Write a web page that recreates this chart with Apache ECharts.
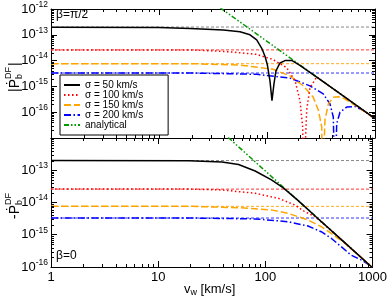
<!DOCTYPE html>
<html><head><meta charset="utf-8">
<script src="https://cdn.jsdelivr.net/npm/echarts@6/dist/echarts.min.js"></script>
<style>html,body{margin:0;padding:0;background:#fff}#c{width:390px;height:299px}</style>
</head><body><div id="c"></div>
<script>
// ---- data (v_w in km/s, P in arbitrary units) ----
const xTickValues = [1, 10, 100, 1000];
const xMinorTicks = [2,3,4,5,6,7,8,9,20,30,40,50,60,70,80,90,200,300,400,500,600,700,800,900];
const topYMinorTicks = [-17,-16,-15,-14,-13].flatMap(e => [2,3,4,5,6,7,8,9].map(k => +(k + 'e' + e)));
const botYMinorTicks = [-16,-15,-14,-13].flatMap(e => [2,3,4,5,6,7,8,9].map(k => +(k + 'e' + e)));
const legendNames = ['σ = 50 km/s', 'σ = 100 km/s', 'σ = 150 km/s', 'σ = 200 km/s', 'analytical'];
const asymptotes = [2.0e-13, 2.6e-14, 7.6e-15, 3.3e-15];

// top panel (beta = pi/2), |P|
const top50 = [[1,1.95e-13],[10,1.9e-13],[19.4,1.75e-13],[39.4,1.55e-13],[56.2,1.32e-13],[69.6,1.0e-13],[80.3,6.4e-14],[89.4,3.0e-14],[95.8,1.47e-14],[100.6,7.1e-15],[106.6,1.6e-15],[111.2,2.8e-16],[116,1.26e-15],[121,4e-15],[132,8.1e-15],[146.7,1.0e-14],[169,1.02e-14],[200,6.7e-15],[300,2.05e-15],[500,4.45e-16],[1000,5.6e-17]];
const top100 = [[1,2.6e-14],[20,2.6e-14],[45,2.2e-14],[80,1.75e-14],[114,1.1e-14],[152,5.3e-15],[182,1.65e-15],[202,2.8e-16],[214,2.7e-17],[218,1e-19],[233,1.2e-16],[250,9e-16],[289,2.3e-15],[350,1.3e-15],[500,4.45e-16],[1000,5.6e-17]];
const top150 = [[1,7.6e-15],[20,7.6e-15],[56,6.7e-15],[114,4.6e-15],[163,2.55e-15],[217,1.05e-15],[268,3.8e-16],[299,1.2e-16],[321,2.7e-17],[327,1e-19],[344,4.9e-17],[370,2.1e-16],[411,3.8e-16],[458,4.0e-16],[509,3.5e-16],[650,1.9e-16],[1000,5.6e-17]];
const top200 = [[1,3.3e-15],[20,3.3e-15],[80,2.95e-15],[163,2.1e-15],[250,1.05e-15],[332,5.1e-16],[383,2.1e-16],[411,6.5e-17],[426,1e-19],[442,3.6e-17],[474,1e-16],[547,1.58e-16],[653,1.67e-16],[780,1.17e-16],[1000,5.6e-17]];
const topAnalytical = [[37,1.1e-12],[1000,5.6e-17]];

// bottom panel (beta = 0), -P
const bot50 = [[1,2.0e-13],[19.4,1.98e-13],[39.4,1.8e-13],[56.2,1.5e-13],[80.3,9.5e-14],[114,5.0e-14],[147,2.85e-14],[200,1.18e-14],[300,3.5e-15],[500,7.6e-16],[1000,9.5e-17]];
const bot100 = [[1,2.6e-14],[19.4,2.6e-14],[39.4,2.45e-14],[80.3,1.93e-14],[132,1.35e-14],[188,8.4e-15],[233,5.2e-15],[289,3.7e-15],[400,1.45e-15],[600,4.35e-16],[1000,9.5e-17]];
const bot150 = [[1,7.6e-15],[20,7.6e-15],[56,6.9e-15],[114,5.9e-15],[163,4.6e-15],[250,2.87e-15],[332,1.78e-15],[411,1.11e-15],[547,5.6e-16],[700,2.75e-16],[1000,9.5e-17]];
const bot200 = [[1,3.3e-15],[20,3.3e-15],[80,3.1e-15],[163,2.54e-15],[250,1.86e-15],[332,1.24e-15],[411,7.8e-16],[509,4.3e-16],[630,2.35e-16],[800,1.6e-16],[933,1.15e-16],[1000,9.5e-17]];
const botAnalytical = [[45,1.04e-12],[1000,9.5e-17]];

// ---- styling ----
const F = '"Liberation Sans", Arial, sans-serif';
const colors = ['#000000', '#ff0000', '#ffa500', '#0000ff', '#009900'];
const asymColors = ['#888888', '#ff3333', '#ffaa22', '#3333ff'];
const dashes = ['solid', [1.5, 2.5], [7, 3], [7, 2.5, 1.5, 2.5], [5, 2, 1.5, 2, 1.5, 2]];

const chart = echarts.init(document.getElementById('c'), null, {renderer: 'canvas'});

function xAx(grid, pos, labels) {
  return {
    type: 'log', logBase: 10, gridIndex: grid, position: pos, min: 1, max: 1000,
    axisLine: {show: true, onZero: false, lineStyle: {color: '#000', width: 1}},
    axisTick: {show: true, inside: true, length: 6, lineStyle: {color: '#000', width: 1}},
    minorTick: {show: false}, splitLine: {show: false}, minorSplitLine: {show: false},
    axisLabel: {show: labels, fontFamily: F, fontSize: 13, color: '#000', margin: 4,
      formatter: v => xTickValues.indexOf(Math.round(v)) >= 0 ? String(Math.round(v)) : ''}
  };
}
function yAx(grid, pos, labels, min, max, hideExp) {
  return {
    type: 'log', logBase: 10, gridIndex: grid, position: pos, min: min, max: max,
    axisLine: {show: true, onZero: false, lineStyle: {color: '#000', width: 1}},
    axisTick: {show: true, inside: true, length: 6, lineStyle: {color: '#000', width: 1}},
    minorTick: {show: false}, splitLine: {show: false}, minorSplitLine: {show: false},
    axisLabel: {show: labels, fontFamily: F, fontSize: 13, color: '#000', margin: 3,
      formatter: v => { const e = Math.round(Math.log10(v)); return e === hideExp ? '' : '10{s|' + e + '}'; },
      rich: {s: {fontFamily: F, fontSize: 8.5, color: '#000', padding: [0, 0, 9, 0]}}}
  };
}

const series = [];
function addLine(name, data, color, dash, width, xi, yi, z) {
  series.push({type: 'line', name: name, data: data, xAxisIndex: xi, yAxisIndex: yi, symbol: 'none',
    showSymbol: false, clip: true, z: z, silent: true,
    lineStyle: {color: color, width: width, type: dash}, itemStyle: {color: color}, emphasis: {disabled: true}});
}
// minor ticks drawn through the axes' own scales
function tickSeries(kind, xi, yi, vals, yMin, yMax) {
  return {type: 'custom', xAxisIndex: xi, yAxisIndex: yi, silent: true, clip: false, z: 20,
    data: vals.map(v => kind === 'y' ? [1, v] : [v, yMin]),
    renderItem: (params, api) => {
      const st = {stroke: '#000', lineWidth: 1};
      if (kind === 'y') {
        const v = api.value(1);
        const a = api.coord([1, v]), b = api.coord([1000, v]);
        const y = Math.round(a[1]) + 0.5;
        return {type: 'group', children: [
          {type: 'line', shape: {x1: a[0], y1: y, x2: a[0] + 3, y2: y}, style: st},
          {type: 'line', shape: {x1: b[0], y1: y, x2: b[0] - 3, y2: y}, style: st}]};
      } else {
        const v = api.value(0);
        const a = api.coord([v, yMin]), b = api.coord([v, yMax]);
        const x = Math.round(a[0]) + 0.5;
        return {type: 'group', children: [
          {type: 'line', shape: {x1: x, y1: a[1], x2: x, y2: a[1] - 3}, style: st},
          {type: 'line', shape: {x1: x, y1: b[1], x2: x, y2: b[1] + 3}, style: st}]};
      }
    }};
}
// asymptotes (thin dashed) in both panels
asymptotes.forEach((lv, i) => {
  addLine('asymTop' + i, [[1, lv], [1000, lv]], asymColors[i], [3, 2], 1, 0, 0, 1);
  addLine('asymBot' + i, [[1, lv], [1000, lv]], asymColors[i], [3, 2], 1, 2, 2, 1);
});
const topSets = [top50, top100, top150, top200, topAnalytical];
const botSets = [bot50, bot100, bot150, bot200, botAnalytical];
topSets.forEach((d, i) => addLine(legendNames[i], d, colors[i], dashes[i], 1.5, 0, 0, 5 - i + 2));
botSets.forEach((d, i) => addLine(legendNames[i], d, colors[i], dashes[i], 1.5, 2, 2, 5 - i + 2));
series.push(tickSeries('y', 0, 0, topYMinorTicks));
series.push(tickSeries('y', 2, 2, botYMinorTicks));
series.push(tickSeries('x', 0, 0, xMinorTicks, 1e-17, 1e-12));
series.push(tickSeries('x', 2, 2, xMinorTicks, 1e-16, 1e-12));

chart.setOption({
  animation: false,
  backgroundColor: '#fff',
  grid: [
    {left: 51, right: 15, top: 7, height: 131, containLabel: false},
    {left: 51, right: 15, top: 138, height: 129, containLabel: false}
  ],
  xAxis: [xAx(0, 'bottom', false), xAx(0, 'top', false), xAx(1, 'bottom', true), xAx(1, 'top', false)],
  yAxis: [yAx(0, 'left', true, 1e-17, 1e-12, -17), yAx(0, 'right', false, 1e-17, 1e-12, -17),
          yAx(1, 'left', true, 1e-16, 1e-12, -12), yAx(1, 'right', false, 1e-16, 1e-12, -12)],
  legend: {
    data: legendNames, orient: 'vertical', left: 60, top: 75, itemWidth: 16, itemHeight: 8, itemGap: 0,
    padding: [5, 25, 5, 3], borderColor: '#000', borderWidth: 1, borderRadius: 0, backgroundColor: '#fff',
    selectedMode: false, textStyle: {fontSize: 10, lineHeight: 10, fontFamily: F, color: '#000'},
    itemStyle: {color: 'rgba(0,0,0,0)', borderWidth: 0, opacity: 0}
  },
  graphic: [
    {type: 'text', left: 56, top: 9, style: {text: 'β=π/2', font: '12px ' + F, fill: '#000'}},
    {type: 'text', left: 56, top: 250, style: {text: 'β=0', font: '12px ' + F, fill: '#000'}},
    {type: 'text', x: 184, y: 289, style: {
      rich: {n: {font: '13px ' + F, fill: '#000'}, w: {font: '9px ' + F, fill: '#000', padding: [8, 0, 0, 0]}},
      text: '{n|v}{w|w}{n| [km/s]}', verticalAlign: 'middle', align: 'left'}},
    {type: 'group', x: 15, y: 92, rotation: Math.PI / 2, children: [
      {type: 'text', x: 0, y: 0, style: {text: '|Ṗ', font: '14px ' + F, fill: '#000', verticalAlign: 'middle'}},
      {type: 'text', x: 13, y: -6, style: {text: 'DF', font: '9px ' + F, fill: '#000', verticalAlign: 'middle'}},
      {type: 'text', x: 13, y: 5, style: {text: 'b', font: '9px ' + F, fill: '#000', verticalAlign: 'middle'}},
      {type: 'text', x: 26, y: 0, style: {text: '|', font: '14px ' + F, fill: '#000', verticalAlign: 'middle'}}
    ]},
    {type: 'group', x: 15, y: 219, rotation: Math.PI / 2, children: [
      {type: 'text', x: 0, y: 0, style: {text: '-Ṗ', font: '14px ' + F, fill: '#000', verticalAlign: 'middle'}},
      {type: 'text', x: 14, y: -6, style: {text: 'DF', font: '9px ' + F, fill: '#000', verticalAlign: 'middle'}},
      {type: 'text', x: 14, y: 5, style: {text: 'b', font: '9px ' + F, fill: '#000', verticalAlign: 'middle'}}
    ]}
  ],
  series: series
});
</script></body></html>
